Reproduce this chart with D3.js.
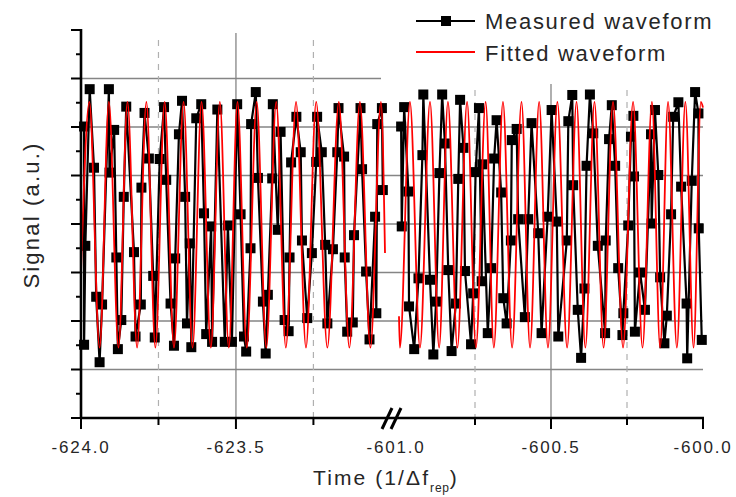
<!DOCTYPE html>
<html>
<head>
<meta charset="utf-8">
<script src="https://cdn.jsdelivr.net/npm/d3@7"></script>
<style>
  html, body { margin: 0; padding: 0; background: #fff; }
  svg { display: block; font-family: "Liberation Sans", Arial, sans-serif; }
</style>
</head>
<body>
<svg id="chart" width="736" height="497"></svg>
<script>
// ---- Data --------------------------------------------------------------
// Measured samples, first window (time in 1/Δf_rep, signal in a.u.)
const measTimeA = [-623.990, -623.990, -623.986, -623.972, -623.958, -623.951, -623.940, -623.932, -623.910, -623.908,
  -623.893, -623.886, -623.881, -623.870, -623.862, -623.854, -623.829, -623.824, -623.807, -623.805,
  -623.795, -623.781, -623.767, -623.762, -623.746, -623.732, -623.725, -623.711, -623.700, -623.696,
  -623.684, -623.674, -623.664, -623.658, -623.649, -623.644, -623.628, -623.612, -623.603, -623.596,
  -623.580, -623.577, -623.560, -623.536, -623.526, -623.513, -623.496, -623.485, -623.474, -623.467,
  -623.453, -623.451, -623.436, -623.429, -623.413, -623.404, -623.397, -623.383, -623.381, -623.365,
  -623.356, -623.343, -623.330, -623.327, -623.322, -623.305, -623.291, -623.287, -623.270, -623.255,
  -623.241, -623.238, -623.223, -623.212, -623.205, -623.187, -623.173, -623.169, -623.151, -623.149,
  -623.141, -623.123, -623.119, -623.098, -623.093, -623.080, -623.069, -623.051, -623.047, -623.044,
  -623.029, -623.026];
const measSigA = [2.01, -2.49, -0.45, 2.78, 1.16, -1.50, -2.85, -1.66, 2.78, 1.06,
  1.94, -0.69, -2.58, -1.98, 0.56, 2.42, -0.58, -2.32, -1.66, 0.75,
  2.29, 1.35, -1.07, -2.34, 1.34, 2.41, 0.91, -1.64, -2.51, -0.71,
  1.85, 2.54, 0.56, -2.05, -0.40, -2.54, 2.18, 2.47, 0.22, -2.27,
  -0.05, -2.43, 2.36, -2.43, -0.03, -2.43, 2.47, 0.20, -2.32, -2.63,
  -0.50, 2.06, 2.72, 0.95, -1.60, -2.67, -1.46, 0.94, 2.47, -0.12,
  1.90, -1.98, -2.21, -0.69, 1.27, 2.21, 1.48, -0.34, -1.94, -0.60,
  1.28, 2.21, 1.48, -0.43, -2.05, -0.52, 1.48, 2.39, 1.39, -0.69,
  -2.22, -2.03, -0.23, 2.39, 1.13, -0.98, -2.38, 0.15, -1.84, 2.06,
  2.39, 0.70];

// Measured samples, second window
const measTimeB = [-600.993, -600.991, -600.983, -600.969, -600.967, -600.950, -600.936, -600.923, -600.920, -600.898,
  -600.887, -600.878, -600.867, -600.858, -600.849, -600.838, -600.827, -600.813, -600.805, -600.799,
  -600.788, -600.783, -600.763, -600.756, -600.748, -600.737, -600.728, -600.726, -600.708, -600.697,
  -600.687, -600.679, -600.664, -600.657, -600.646, -600.632, -600.629, -600.613, -600.608, -600.586,
  -600.575, -600.564, -600.542, -600.531, -600.511, -600.498, -600.481, -600.476, -600.448, -600.443,
  -600.430, -600.427, -600.412, -600.401, -600.390, -600.383, -600.372, -600.361, -600.346, -600.322,
  -600.320, -600.309, -600.300, -600.289, -600.279, -600.265, -600.262, -600.246, -600.237, -600.229,
  -600.227, -600.224, -600.207, -600.191, -600.171, -600.169, -600.158, -600.147, -600.141, -600.127,
  -600.119, -600.105, -600.098, -600.081, -600.072, -600.054, -600.052, -600.037, -600.026, -600.015,
  -600.014, -600.004];
const measSigB = [2.01, -0.05, 2.41, 0.67, -1.70, -2.58, -1.12, 1.42, 2.67, -1.15,
  -2.69, -1.60, 1.05, 2.67, 1.66, -0.95, -2.62, -1.64, 0.93, 2.56,
  1.57, -0.97, -2.48, -1.43, 1.07, 2.39, -1.18, 1.23, -2.25, -0.91,
  1.35, 2.14, 0.65, -1.53, -2.05, -0.34, 1.73, 1.96, 0.10, -1.92,
  0.10, 2.08, -0.19, -2.25, 0.15, 2.35, 0.05, -2.32, -0.34, 2.12,
  2.66, 0.80, -1.77, -2.76, -1.33, 1.20, 2.67, 1.87, -0.45, -2.25,
  -0.34, 1.75, 2.45, 1.20, -0.91, -2.29, -1.84, -0.03, 1.80, 2.23,
  0.98, -2.22, -1.00, -1.77, 1.85, 0.01, 2.35, 1.01, -1.10, -2.46,
  -1.89, 0.20, 2.21, 2.51, 0.77, -1.64, -2.77, 0.89, 2.72, 2.28,
  -0.09, -2.39];

// Fitted waveform, turning points (first window)
const fitTimeA = [-624.000, -623.973, -623.940, -623.910, -623.879, -623.850, -623.819, -623.789, -623.760, -623.730,
  -623.700, -623.669, -623.640, -623.611, -623.581, -623.552, -623.523, -623.495, -623.465, -623.433,
  -623.402, -623.370, -623.339, -623.306, -623.274, -623.241, -623.205, -623.168, -623.134, -623.100,
  -623.066, -623.032, -623.019];
const fitSigA = [-1.00, 2.52, -2.55, 2.52, -2.55, 2.52, -2.55, 2.52, -2.55, 2.52,
  -2.55, 2.52, -2.55, 2.52, -2.55, 2.52, -2.55, 2.52, -2.55, 2.52,
  -2.55, 2.52, -2.55, 2.52, -2.55, 2.52, -2.55, 2.52, -2.55, 2.52,
  -2.55, 2.52, -0.60];

// Fitted waveform, turning points (second window)
const fitTimeB = [-601.000, -600.997, -600.964, -600.931, -600.898, -600.868, -600.839, -600.808, -600.776, -600.747,
  -600.715, -600.688, -600.658, -600.628, -600.597, -600.569, -600.539, -600.510, -600.479, -600.447,
  -600.416, -600.387, -600.357, -600.327, -600.296, -600.263, -600.230, -600.199, -600.168, -600.141,
  -600.115, -600.086, -600.058, -600.031, -600.007, -600.000];
const fitSigB = [-1.90, -2.55, 2.52, -2.55, 2.52, -2.55, 2.52, -2.55, 2.52, -2.55,
  2.52, -2.55, 2.52, -2.55, 2.52, -2.55, 2.52, -2.55, 2.52, -2.55,
  2.52, -2.55, 2.52, -2.55, 2.52, -2.55, 2.52, -2.55, 2.52, -2.55,
  2.52, -2.55, 2.52, -2.55, 2.52, 2.40];

// Axis ticks
const xMajorA = [-624.0, -623.5];
const xMinorA = [-623.75, -623.25];
const xMajorB = [-600.5, -600.0];
const xMinorB = [-600.75, -600.25];
const xBreakLabel = -601.0;
const yMajor = [-4, -3, -2, -1, 0, 1, 2, 3, 4];
const yMinor = [-3.5, -2.5, -1.5, -0.5, 0.5, 1.5, 2.5, 3.5];
const yGridFull = [-3, -2, -1, 0, 1, 2];
const yGridLeftOnly = [3];

const legendLabels = ["Measured waveform", "Fitted waveform"];
const xTitle = "Time (1/Δf";
const xTitleSub = "rep";
const yTitle = "Signal (a.u.)";

// ---- Layout -------------------------------------------------------------
const svg = d3.select("#chart");
const xA = d3.scaleLinear().domain([-624.0, -623.019]).range([81, 385]);
const xB = d3.scaleLinear().domain([-601.0, -600.0]).range([399, 703]);
const y = d3.scaleLinear().domain([-4, 4]).range([418, 30]);
const axisLeftX = 81, axisRightX = 703, axisY = 418;
const textColor = "#262626";

const grid = svg.append("g");
// horizontal grid
grid.selectAll("line.hf").data(yGridFull).join("line")
  .attr("x1", axisLeftX).attr("x2", axisRightX)
  .attr("y1", d => y(d)).attr("y2", d => y(d))
  .attr("stroke", "#858585").attr("stroke-width", 1.3);
grid.selectAll("line.hl").data(yGridLeftOnly).join("line")
  .attr("x1", axisLeftX).attr("x2", 381)
  .attr("y1", d => y(d)).attr("y2", d => y(d))
  .attr("stroke", "#858585").attr("stroke-width", 1.3);
// vertical grid: solid at major ticks, dashed at minor ticks
function vGrid(scale, majors, minors, topMajor, topMinor) {
  grid.append("g").selectAll("line").data(majors.filter(d => scale(d) > axisLeftX + 2 && scale(d) < axisRightX - 2)).join("line")
    .attr("x1", d => scale(d)).attr("x2", d => scale(d))
    .attr("y1", topMajor).attr("y2", axisY)
    .attr("stroke", "#858585").attr("stroke-width", 1.3);
  grid.append("g").selectAll("line").data(minors).join("line")
    .attr("x1", d => scale(d)).attr("x2", d => scale(d))
    .attr("y1", topMinor).attr("y2", axisY)
    .attr("stroke", "#b0b0b0").attr("stroke-width", 1.2)
    .attr("stroke-dasharray", "6,6");
}
vGrid(xA, xMajorA, xMinorA, 33, 40);
vGrid(xB, xMajorB, xMinorB, 84, 90);

// ---- Series -------------------------------------------------------------
function drawMeasured(scale, times, sigs) {
  const pts = times.map((t, i) => [t, sigs[i]]);
  svg.append("path").datum(pts)
    .attr("fill", "none").attr("stroke", "#000").attr("stroke-width", 2.2)
    .attr("d", d3.line().x(d => scale(d[0])).y(d => y(d[1])));
  svg.append("g").selectAll("rect").data(pts).join("rect")
    .attr("x", d => scale(d[0]) - 5).attr("y", d => y(d[1]) - 5)
    .attr("width", 10).attr("height", 10).attr("fill", "#000");
}
function drawFit(scale, times, sigs) {
  const pts = times.map((t, i) => [t, sigs[i]]);
  svg.append("path").datum(pts)
    .attr("fill", "none").attr("stroke", "#ff0000").attr("stroke-width", 1.8)
    .attr("d", d3.line().curve(d3.curveMonotoneX).x(d => scale(d[0])).y(d => y(d[1])));
}
drawMeasured(xA, measTimeA, measSigA);
drawMeasured(xB, measTimeB, measSigB);
drawFit(xA, fitTimeA, fitSigA);
drawFit(xB, fitTimeB, fitSigB);

// ---- Axes ---------------------------------------------------------------
const fmt = d => d.toFixed(1);
const axes = svg.append("g");
// y axis line and ticks
axes.append("line").attr("x1", axisLeftX).attr("x2", axisLeftX)
  .attr("y1", y(4) - 1).attr("y2", axisY + 1).attr("stroke", "#000").attr("stroke-width", 2.6);
axes.append("g").selectAll("line").data(yMajor).join("line")
  .attr("x1", axisLeftX - 10).attr("x2", axisLeftX).attr("y1", d => y(d)).attr("y2", d => y(d))
  .attr("stroke", "#000").attr("stroke-width", 2);
axes.append("g").selectAll("line").data(yMinor).join("line")
  .attr("x1", axisLeftX - 5).attr("x2", axisLeftX).attr("y1", d => y(d)).attr("y2", d => y(d))
  .attr("stroke", "#000").attr("stroke-width", 2);
// x axis line
axes.append("line").attr("x1", axisLeftX - 1).attr("x2", axisRightX + 1)
  .attr("y1", axisY).attr("y2", axisY).attr("stroke", "#000").attr("stroke-width", 2.6);
function xTicks(scale, majors, minors) {
  axes.append("g").selectAll("line").data(majors).join("line")
    .attr("x1", d => scale(d)).attr("x2", d => scale(d)).attr("y1", axisY).attr("y2", axisY + 11)
    .attr("stroke", "#000").attr("stroke-width", 2);
  axes.append("g").selectAll("line").data(minors).join("line")
    .attr("x1", d => scale(d)).attr("x2", d => scale(d)).attr("y1", axisY).attr("y2", axisY + 7)
    .attr("stroke", "#000").attr("stroke-width", 2);
  axes.append("g").selectAll("text").data(majors).join("text")
    .attr("x", d => scale(d)).attr("y", 453)
    .attr("text-anchor", "middle").attr("font-size", 17).attr("letter-spacing", 1.8)
    .attr("fill", textColor).text(fmt);
}
xTicks(xA, xMajorA, xMinorA);
xTicks(xB, xMajorB, xMinorB);
axes.append("text").attr("x", xB(xBreakLabel) - 3).attr("y", 453)
  .attr("text-anchor", "middle").attr("font-size", 17).attr("letter-spacing", 1.8)
  .attr("fill", textColor).text(fmt(xBreakLabel));
// axis break marks
const brk = axes.append("g");
[382, 391].forEach(x0 => {
  brk.append("line").attr("x1", x0).attr("y1", axisY + 11).attr("x2", x0 + 10).attr("y2", axisY - 10)
    .attr("stroke", "#000").attr("stroke-width", 3);
});

// axis titles
const xt = svg.append("text").attr("x", 313).attr("y", 485)
  .attr("font-size", 21).attr("letter-spacing", 2.1).attr("fill", textColor);
xt.append("tspan").text(xTitle);
xt.append("tspan").attr("dy", 7).attr("font-size", 12).attr("letter-spacing", 0.8).text(xTitleSub);
xt.append("tspan").attr("dy", -7).text(")");

svg.append("text").attr("transform", "translate(39,215) rotate(-90)")
  .attr("text-anchor", "middle").attr("font-size", 22).attr("letter-spacing", 2.2)
  .attr("fill", textColor).text(yTitle);

// ---- Legend -------------------------------------------------------------
const lg = svg.append("g");
lg.append("line").attr("x1", 416).attr("x2", 475).attr("y1", 21).attr("y2", 21)
  .attr("stroke", "#000").attr("stroke-width", 2);
lg.append("rect").attr("x", 441).attr("y", 16).attr("width", 10).attr("height", 10).attr("fill", "#000");
lg.append("line").attr("x1", 416).attr("x2", 475).attr("y1", 52).attr("y2", 52)
  .attr("stroke", "#ff0000").attr("stroke-width", 1.8);
lg.selectAll("text").data(legendLabels).join("text")
  .attr("x", 485).attr("y", (d, i) => 29 + i * 32)
  .attr("font-size", 22).attr("letter-spacing", 1.7).attr("fill", textColor).text(d => d);
</script>
</body>
</html>
